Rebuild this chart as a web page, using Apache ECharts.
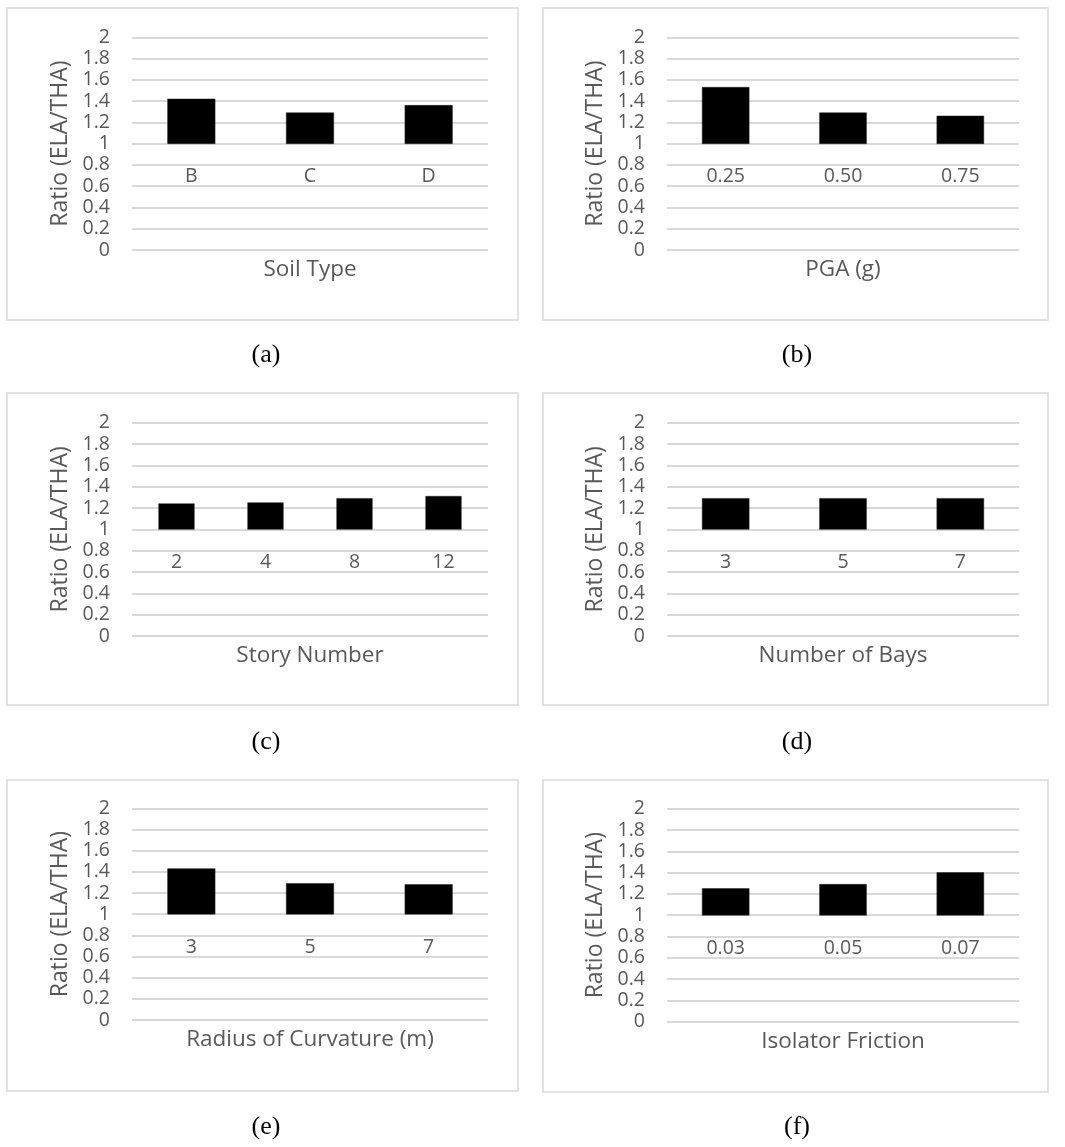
<!DOCTYPE html>
<html>
<head>
<meta charset="utf-8">
<script src="https://cdn.jsdelivr.net/npm/echarts@6/dist/echarts.min.js"></script>
<style>
html,body{margin:0;padding:0;background:#fff;}
#chart{width:1065px;height:1147px;}
</style>
</head>
<body>
<div id="chart"></div>
<script>
// ---- data ----
const soilCats = ['B', 'C', 'D'];
const soilVals = [1.42, 1.29, 1.36];
const pgaCats = ['0.25', '0.50', '0.75'];
const pgaVals = [1.53, 1.29, 1.26];
const storyCats = ['2', '4', '8', '12'];
const storyVals = [1.24, 1.25, 1.29, 1.31];
const baysCats = ['3', '5', '7'];
const baysVals = [1.29, 1.29, 1.29];
const radiusCats = ['3', '5', '7'];
const radiusVals = [1.43, 1.29, 1.28];
const frictionCats = ['0.03', '0.05', '0.07'];
const frictionVals = [1.25, 1.29, 1.40];
const xTitles = ['Soil Type', 'PGA (g)', 'Story Number', 'Number of Bays', 'Radius of Curvature (m)', 'Isolator Friction'];
const captions = ['(a)', '(b)', '(c)', '(d)', '(e)', '(f)'];
const yTitle = 'Ratio (ELA/THA)';
const yTicks = { min: 0, max: 2, interval: 0.2 };
const baseline = 1; // horizontal axis crosses at 1

const panels = [
  { cats: soilCats, vals: soilVals },
  { cats: pgaCats, vals: pgaVals },
  { cats: storyCats, vals: storyVals },
  { cats: baysCats, vals: baysVals },
  { cats: radiusCats, vals: radiusVals },
  { cats: frictionCats, vals: frictionVals }
];

// ---- layout ----
const boxes = [
  { x: 7, y: 8, w: 511, h: 312 },
  { x: 543, y: 8, w: 505, h: 312 },
  { x: 7, y: 393, w: 511, h: 312 },
  { x: 543, y: 393, w: 505, h: 312 },
  { x: 7, y: 780, w: 511, h: 311 },
  { x: 543, y: 780, w: 505, h: 312 }
];
const grids = [
  { left: 132, top: 37.3, width: 356, height: 212.7 },
  { left: 667, top: 37.3, width: 352, height: 212.7 },
  { left: 132, top: 422.7, width: 356, height: 213.3 },
  { left: 667, top: 422.7, width: 352, height: 213.3 },
  { left: 132, top: 808.3, width: 356, height: 211.7 },
  { left: 667, top: 808.7, width: 352, height: 213 }
];
const captionPos = [[266, 355], [797, 355], [266, 742], [797, 742], [266, 1127], [797, 1127]];

const FONT = '"Open Sans", Lato, sans-serif';
const TXT = '#595959';

const option = {
  backgroundColor: '#fff',
  animation: false,
  grid: grids.map(g => ({ left: g.left, top: g.top, width: g.width, height: g.height, containLabel: false })),
  xAxis: panels.map((p, i) => ({
    type: 'category',
    gridIndex: i,
    data: p.cats,
    position: 'bottom',
    offset: -grids[i].height * (baseline - yTicks.min) / (yTicks.max - yTicks.min),
    axisLine: { show: false },
    axisTick: { show: false },
    axisLabel: { color: TXT, fontSize: 19.5, fontFamily: FONT, margin: 23 },
    splitLine: { show: false }
  })),
  yAxis: panels.map((p, i) => ({
    type: 'value',
    gridIndex: i,
    min: yTicks.min,
    max: yTicks.max,
    interval: yTicks.interval,
    name: yTitle,
    nameLocation: 'middle',
    nameRotate: 90,
    nameGap: 60,
    nameTextStyle: { color: TXT, fontSize: 23, fontFamily: FONT },
    axisLine: { show: false },
    axisTick: { show: false },
    axisLabel: { color: TXT, fontSize: 19.5, fontFamily: FONT, margin: 22, lineHeight: 20,
      formatter: v => String(Math.round(v * 10) / 10) },
    splitLine: { show: true, lineStyle: { color: '#d9d9d9', width: 2 } }
  })),
  title: panels.map((p, i) => ({
    text: xTitles[i],
    left: grids[i].left + grids[i].width / 2,
    top: grids[i].top + grids[i].height + 8,
    textAlign: 'center',
    padding: 0,
    textStyle: { color: TXT, fontSize: 22.5, fontWeight: 'normal', fontFamily: FONT }
  })).concat(captions.map((c, i) => ({
    text: c,
    left: captionPos[i][0],
    top: captionPos[i][1] - 13,
    textAlign: 'center',
    padding: 0,
    textStyle: { color: '#000', fontSize: 26, fontWeight: 'normal', fontFamily: '"Liberation Serif", "Times New Roman", serif' }
  }))),
  graphic: boxes.map(b => ({
    type: 'rect',
    shape: { x: b.x, y: b.y, width: b.w, height: b.h },
    style: { fill: '#fff', stroke: '#d9d9d9', lineWidth: 1.5 },
    silent: true,
    z: -1
  })),
  series: panels.map((p, i) => ({
    type: 'custom',
    xAxisIndex: i,
    yAxisIndex: i,
    data: p.vals.map((v, k) => [k, v]),
    encode: { x: 0, y: 1 },
    renderItem: function (params, api) {
      const k = api.value(0), v = api.value(1);
      const top = api.coord([k, v]);
      const base = api.coord([k, baseline]);
      const w = api.size([1, 0])[0] * 0.4;
      return {
        type: 'rect',
        shape: { x: top[0] - w / 2, y: Math.min(top[1], base[1]), width: w, height: Math.abs(base[1] - top[1]) },
        style: { fill: '#000', stroke: '#222', lineWidth: 0.5 }
      };
    }
  }))
};

const chart = echarts.init(document.getElementById('chart'), null, { renderer: 'canvas' });
chart.setOption(option);
</script>
</body>
</html>
